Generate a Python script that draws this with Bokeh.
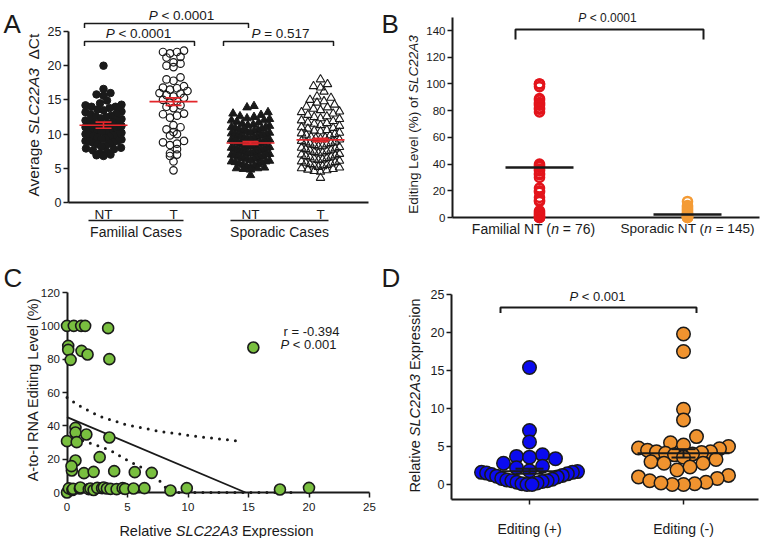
import math
from bokeh.plotting import figure
from bokeh.models import Range1d, LinearAxis, FixedTicker
from bokeh.layouts import gridplot
from bokeh.core.properties import value
from bokeh.embed import file_html
from bokeh.resources import INLINE

FONT = "Liberation Sans"
INK = "#1a1a1a"

# ---------------- data ----------------
# Panel A : average SLC22A3 dCt
a_groups = ["Familial Cases", "Sporadic Cases"]
a_ticks = ["NT", "T", "NT", "T"]
a_fam_nt = [20.0, 16.6, 16.0, 15.8, 15.6, 14.9, 14.5, 14.3, 14.2, 14.0, 14.0, 13.8, 13.6, 13.5,
            13.3, 13.2, 13.0, 12.9, 12.7, 12.6, 12.5, 12.3, 12.2, 12.0, 12.0, 11.9, 11.7, 11.6,
            11.5, 11.4, 11.3, 11.2, 11.0, 11.0, 10.9, 10.8, 10.7, 10.6, 10.5, 10.4, 10.3, 10.2,
            10.0, 10.0, 9.9, 9.8, 9.7, 9.6, 9.5, 9.4, 9.3, 9.2, 9.0, 9.0, 8.9, 8.8, 8.7, 8.6,
            8.5, 8.3, 8.2, 8.0, 7.9, 7.8, 7.6, 7.4, 7.2, 7.0, 6.9, 6.8]
a_fam_t = [22.2, 22.0, 22.0, 21.8, 21.3, 21.2, 20.5, 20.3, 20.0, 19.8, 18.3, 18.0, 17.8, 17.0,
           16.8, 16.7, 16.5, 16.3, 16.0, 15.9, 15.7, 15.5, 15.3, 15.0, 14.8, 14.6, 14.2, 14.0,
           13.8, 13.0, 12.9, 12.7, 12.4, 11.3, 11.0, 10.7, 10.3, 10.0, 9.8, 9.0, 8.8, 8.6, 8.4,
           7.8, 7.2, 7.0, 6.8, 6.0, 4.7]
a_spo_nt = [14.1, 13.9, 13.2, 13.0, 12.8, 12.6, 12.5, 12.3, 12.2, 12.0, 12.0, 11.8, 11.7, 11.5,
            11.4, 11.3, 11.2, 11.0, 11.0, 10.9, 10.8, 10.7, 10.6, 10.5, 10.5, 10.4, 10.3, 10.2,
            10.1, 10.0, 10.0, 9.9, 9.8, 9.8, 9.7, 9.6, 9.5, 9.5, 9.4, 9.3, 9.2, 9.2, 9.1, 9.0,
            9.0, 8.9, 8.8, 8.8, 8.7, 8.6, 8.6, 8.5, 8.4, 8.4, 8.3, 8.2, 8.2, 8.1, 8.0, 8.0, 7.9,
            7.8, 7.8, 7.7, 7.6, 7.6, 7.5, 7.4, 7.4, 7.3, 7.2, 7.2, 7.1, 7.0, 7.0, 6.9, 6.8, 6.8,
            6.7, 6.6, 6.5, 6.5, 6.4, 6.3, 6.2, 6.1, 6.0, 6.0, 5.9, 5.8, 5.7, 5.6, 5.5, 5.4, 5.3,
            5.2, 5.1, 5.0, 5.0, 4.9, 4.8, 4.0]
a_spo_t = [18.0, 17.3, 17.0, 16.8, 16.2, 15.5, 15.3, 15.0, 14.8, 14.6, 14.3, 14.0, 13.9, 13.7,
           13.5, 13.3, 13.2, 13.0, 12.8, 12.6, 12.5, 12.3, 12.2, 12.0, 11.9, 11.7, 11.6, 11.5,
           11.3, 11.2, 11.0, 10.9, 10.8, 10.6, 10.5, 10.4, 10.2, 10.1, 10.0, 9.9, 9.8, 9.6, 9.5,
           9.4, 9.3, 9.2, 9.0, 8.9, 8.8, 8.7, 8.6, 8.5, 8.4, 8.3, 8.2, 8.1, 8.0, 7.9, 7.8, 7.7,
           7.6, 7.5, 7.4, 7.3, 7.2, 7.1, 7.0, 6.9, 6.8, 6.7, 6.6, 6.5, 6.4, 6.3, 6.2, 6.1, 6.0,
           5.9, 5.8, 5.7, 5.6, 5.5, 5.4, 5.3, 5.2, 5.1, 5.0, 4.9, 4.8, 4.7, 4.6, 4.5, 3.6]
a_mean = [11.3, 14.75, 8.7, 9.15]
a_sem = [0.45, 0.55, 0.2, 0.25]
a_p_top = "< 0.0001"
a_p_left = "< 0.0001"
a_p_right = "= 0.517"

# Panel B : editing level (%)
b_cats = ["Familial NT", "Sporadic NT"]
b_n = [76, 145]
b_fam = [100, 100, 98, 89, 88, 86, 85, 84, 82, 81, 79, 40, 39, 38, 36, 35, 33, 32, 30, 22, 20,
         19, 15, 13, 12, 5, 4, 3, 2, 1, 0, 0, 0]
b_spo = [12, 9, 8, 7, 6, 5, 4, 3, 3, 2, 2, 1, 1, 0, 0, 0]
b_median = [37.5, 2.3]
b_p = "< 0.0001"

# Panel C : correlation
c_expr = [0.0, 0.56, 1.17, 1.5, 3.4, 0.1, 0.1, 0.3, 1.2, 1.7, 3.5, 15.4, 0.7, 0.7, 0.0, 0.8,
          1.6, 3.5, 0.7, 0.4, 0.37, 1.4, 2.2, 2.7, 3.9, 5.6, 7.0, 0.0, 0.15, 0.45, 0.5, 1.06,
          1.1, 1.8, 1.94, 2.2, 2.5, 2.9, 3.04, 3.3, 3.6, 4.1, 4.6, 4.8, 5.5, 6.4, 8.55, 9.9,
          17.6, 20.0]
c_edit = [100, 100, 100, 100, 98.6, 88, 85.6, 79.6, 85, 82.8, 80, 87, 38.8, 36, 30.8, 30.2,
          34.8, 33, 19.2, 13.2, 15.8, 11.6, 12.4, 21.2, 12.8, 12.2, 11.8, 0, 2.5, 1.5, 2.2, 2.4,
          3.0, 2.0, 2.4, 1.5, 2.8, 2.6, 3.0, 2.4, 2.2, 2.0, 2.6, 2.2, 2.4, 2.6, 1.2, 2.6, 1.8,
          2.8]
c_fit_x = [0.0, 14.75]
c_fit_y = [45.2, 0.0]
c_hi_x = [0.0, 0.6, 1.3, 2.7, 4.8, 7.7, 10.8, 14.5]
c_hi_y = [57.0, 54.0, 50.8, 45.8, 40.8, 36.6, 33.6, 30.6]
c_lo_x = [0.0, 1.3, 2.2, 3.6, 4.8, 6.1, 7.5, 8.0, 8.5, 19.0]
c_lo_y = [33.0, 31.0, 29.0, 25.2, 20.0, 15.2, 8.2, 4.2, 0.0, 0.0]
c_r = "r = -0.394"
c_p = "< 0.001"

# Panel D : expression by editing status
d_cats = ["Editing (+)", "Editing (-)"]
d_pos = [15.4, 7.1, 5.6, 3.9, 3.7, 3.6, 3.4, 2.8, 2.4, 2.2, 1.8, 1.7, 1.6, 1.6, 1.5, 1.4, 1.3,
         1.2, 1.1, 1.0, 0.8, 0.7, 0.6, 0.5, 0.5, 0.4, 0.3, 0.2, 0.1, 0.0, 0.0]
d_neg = [19.8, 17.5, 9.9, 8.5, 6.3, 5.5, 5.2, 5.0, 4.8, 4.7, 4.5, 4.3, 4.3, 4.2, 4.1, 4.0, 3.9,
         3.6, 3.3, 3.0, 2.8, 2.8, 2.3, 1.9, 1.2, 1.0, 0.8, 0.5, 0.3, 0.1, 0.0, 0.0, 0.2]
d_mean = [1.75, 4.1]
d_sem = [0.33, 0.55]
d_p = "< 0.001"

# ---------------- helpers ----------------
CW = {" ": 278, "(": 333, ")": 333, "+": 584, "-": 333, ".": 278, "%": 889, "=": 584, "<": 584,
      "A": 667, "B": 667, "C": 722, "D": 722, "E": 667, "F": 611, "I": 278, "L": 556, "N": 722,
      "P": 667, "R": 722, "S": 667, "T": 611, "a": 556, "c": 500, "d": 556, "e": 556, "f": 278,
      "g": 556, "i": 222, "l": 222, "m": 833, "n": 556, "o": 556, "p": 556, "r": 333, "s": 500,
      "t": 278, "v": 500, "x": 500, "y": 500, "\u0394": 612}


def tw(s, size):
    return sum(CW.get(ch, 556) for ch in s) * size / 1000.0


def swarm(vals, sy, diam, max_half):
    order = sorted(range(len(vals)), key=lambda i: vals[i])
    bins = {}
    for i in order:
        bins.setdefault(math.floor(vals[i] * sy / diam), []).append(i)
    off = [0.0] * len(vals)
    for idx in bins.values():
        k = len(idx)
        if k < 2:
            continue
        slots = sorted([j - (k - 1) / 2 for j in range(k)], key=lambda s: (abs(s), s))
        spacing = min(diam, max_half / ((k - 1) / 2))
        for i, s in zip(idx, slots):
            off[i] = s * spacing
    return off


class Panel:
    def __init__(self, X0, Y0, W, H, xa, Xa, xb, Xb, ya, Ya, yb, Yb):
        self.sx = (Xb - Xa) / (xb - xa)
        self.sy = (Ya - Yb) / (yb - ya)
        self.xa, self.Xa, self.ya, self.Ya = xa, Xa, ya, Ya
        self.p = figure(width=W, height=H, x_range=Range1d(self.dx(X0), self.dx(X0 + W)),
                        y_range=Range1d(self.dy(Y0 + H), self.dy(Y0)), min_border=0,
                        toolbar_location=None, tools="", output_backend="svg",
                        x_axis_location=None, y_axis_location=None)
        self.p.outline_line_color = None
        self.p.grid.visible = False
        self.p.title.visible = False
        self.p.background_fill_color = "white"
        self.p.border_fill_color = "white"

    def dx(self, X):
        return self.xa + (X - self.Xa) / self.sx

    def dy(self, Y):
        return self.ya + (self.Ya - Y) / self.sy

    def axis(self, side, loc, bounds, ticks, size, overrides=None, tick_out=5, standoff=3):
        ax = LinearAxis(fixed_location=loc, bounds=bounds, ticker=FixedTicker(ticks=ticks))
        ax.axis_line_width = 2
        ax.axis_line_color = INK
        ax.major_tick_line_width = 1.5
        ax.major_tick_line_color = INK if tick_out > 0 else None
        ax.major_tick_out = tick_out
        ax.major_tick_in = 0
        ax.minor_tick_line_color = None
        ax.major_label_text_font = FONT
        ax.major_label_text_font_size = f"{size}px"
        ax.major_label_text_color = INK
        ax.major_label_standoff = standoff
        if overrides:
            ax.major_label_overrides = overrides
        self.p.add_layout(ax, side)
        return ax

    def rich(self, X, Y, parts, size, align="center", angle=0.0, baseline="middle"):
        widths = [tw(t, size) for t, _ in parts]
        total = sum(widths)
        if angle == 0:
            cur = X - total / 2 if align == "center" else (X if align == "left" else X - total)
        else:
            cur = Y + total / 2
        for (t, it), w in zip(parts, widths):
            body = t.strip()
            lead = tw(t[:len(t) - len(t.lstrip())], size)
            if angle == 0:
                x, y = self.dx(cur + lead), self.dy(Y)
                cur += w
            else:
                x, y = self.dx(X), self.dy(cur - lead)
                cur -= w
            self.p.text(x=[x], y=[y], text=[body], angle=angle, text_font=value(FONT),
                        text_font_size=f"{size}px",
                        text_font_style="italic" if it else "normal",
                        text_align="left", text_baseline=baseline, text_color=INK)

    def letter(self, X, Y, s):
        self.p.text(x=[self.dx(X)], y=[self.dy(Y)], text=[s], text_font=value(FONT),
                    text_font_size="26px", text_align="left", text_baseline="alphabetic",
                    text_color=INK)

    def bracket(self, X1, X2, Ytop, Ydrop, width=1.5):
        self.p.line([self.dx(X1), self.dx(X1), self.dx(X2), self.dx(X2)],
                    [self.dy(Ydrop), self.dy(Ytop), self.dy(Ytop), self.dy(Ydrop)],
                    line_color=INK, line_width=width)


# ---------------- Panel A ----------------
A = Panel(0, 0, 381, 250, 0, 68, 1, 138, 0, 202, 25, 31)
a_xpos = [0.5, 1.5, 2.6, 3.6]
A.axis("left", 0, (0, 25), [0, 5, 10, 15, 20, 25], 12.5, standoff=2)
A.axis("below", 0, (0, 4.29), a_xpos, 13.5,
       overrides={a_xpos[i]: a_ticks[i] for i in range(4)}, tick_out=0, standoff=4)

a_series = [a_fam_nt, a_fam_t, a_spo_nt, a_spo_t]
a_style = [dict(marker="circle", size=7.5, fill_color=INK, line_color=INK),
           dict(marker="circle", size=7.5, fill_color=None, line_color=INK, line_width=1.2),
           dict(marker="triangle", size=8.5, fill_color=INK, line_color=INK),
           dict(marker="triangle", size=8.5, fill_color=None, line_color=INK, line_width=1.1)]
a_half = [18, 14, 19, 19]
for k in range(4):
    offs = swarm(a_series[k], A.sy, 7.0, a_half[k])
    xs = [a_xpos[k] + o / A.sx for o in offs]
    A.p.scatter(xs, a_series[k], **a_style[k])
RED = "#e3262b"
for k in range(4):
    c = a_xpos[k]
    h, cap = 24 / A.sx, 8 / A.sx
    m, s = a_mean[k], a_sem[k]
    A.p.segment([c - h, c, c - cap, c - cap], [m, m - s, m + s, m - s],
                [c + h, c, c + cap, c + cap], [m, m + s, m + s, m - s],
                line_color=RED, line_width=1.6)
A.bracket(84, 248, 23, 27.5)
A.bracket(84, 194, 41, 45.5)
A.bracket(223, 333, 41, 45.5)
A.rich(181, 15, [("P", 1), (" " + a_p_top, 0)], 13.5)
A.rich(138, 33, [("P", 1), (" " + a_p_left, 0)], 13.5)
A.rich(280, 33, [("P", 1), (" " + a_p_right, 0)], 13.5)
A.rich(33, 115, [("Average ", 0), ("SLC22A3", 1), ("  \u0394Ct", 0)], 15.5, angle=math.pi / 2)
for (X1, X2), g in zip([(88, 183), (230, 328)], a_groups):
    A.p.line([A.dx(X1), A.dx(X2)], [A.dy(220), A.dy(220)], line_color=INK, line_width=1.5)
    A.rich((X1 + X2) / 2, 231, [(g, 0)], 14)
A.letter(3, 23, "A")

# ---------------- Panel B ----------------
B = Panel(381, 0, 381, 250, 0, 452, 1, 552, 0, 217, 140, 30)
b_xpos = [0.87, 2.35]
B.axis("left", 0, (0, 150), [0, 20, 40, 60, 80, 100, 120, 140], 11.5, standoff=2)
B.axis("below", 0, (0, 3.07), [], 12, tick_out=0)
B.p.scatter([b_xpos[0]] * len(b_fam), b_fam, marker="circle", size=9, fill_color=None,
            line_color="#e3141b", line_width=2.6, level="overlay")
B.p.scatter([b_xpos[1]] * len(b_spo), b_spo, marker="circle", size=9, fill_color=None,
            line_color="#f49b35", line_width=2.6, level="overlay")
for k in range(2):
    h = 34 / B.sx
    B.p.segment([b_xpos[k] - h], [b_median[k]], [b_xpos[k] + h], [b_median[k]],
                line_color=INK, line_width=2.5, level="overlay")
B.bracket(515, 703, 29, 39, width=2)
B.rich(607, 17, [("P", 1), (" " + b_p, 0)], 12)
B.rich(413, 124, [("Editing Level (%) of ", 0), ("SLC22A3", 1)], 13.5, angle=math.pi / 2)
B.rich(533, 228, [(b_cats[0] + " (", 0), ("n", 1), (f" = {b_n[0]})", 0)], 14)
B.rich(687, 228, [(b_cats[1] + " (", 0), ("n", 1), (f" = {b_n[1]})", 0)], 13.6)
B.letter(381, 23, "B")

# ---------------- Panel C ----------------
C = Panel(0, 250, 381, 288, 0, 66.5, 25, 369, 0, 492, 120, 292)
C.axis("left", 0, (0, 120), [0, 20, 40, 60, 80, 100, 120], 11.5, standoff=2)
C.axis("below", 0, (0, 25), [0, 5, 10, 15, 20, 25], 11.5, standoff=5)
C.p.line(c_hi_x, c_hi_y, line_color=INK, line_width=3, line_dash="0 8", line_cap="round")
C.p.line(c_lo_x, c_lo_y, line_color=INK, line_width=3, line_dash="0 8", line_cap="round")
C.p.line(c_fit_x, c_fit_y, line_color=INK, line_width=1.8)
C.p.scatter(c_expr, c_edit, marker="circle", size=11, fill_color="#79bf3f", line_color=INK,
            line_width=1.6, level="overlay")
C.rich(283, 331, [(c_r, 0)], 13, align="left")
C.rich(280, 344, [("P", 1), (" " + c_p, 0)], 13, align="left")
C.rich(32, 389, [("A-to-I RNA Editing Level (%)", 0)], 14.5, angle=math.pi / 2)
C.rich(216, 530, [("Relative ", 0), ("SLC22A3", 1), (" Expression", 0)], 14.5)
C.letter(3, 277, "C")

# ---------------- Panel D ----------------
D = Panel(381, 250, 381, 288, 0, 451, 1, 551, 0, 484, 25, 294)
d_xpos = [0.78, 2.32]
d_floor = D.dy(499)
D.axis("left", 0, (d_floor, 25), [0, 5, 10, 15, 20, 25], 12.5, standoff=2)
D.axis("below", d_floor, (0, 3.07), d_xpos, 14,
       overrides={d_xpos[i]: d_cats[i] for i in range(2)}, tick_out=5, standoff=16)
for vals, c, col, half in [(d_pos, d_xpos[0], "#0b0bef", 48), (d_neg, d_xpos[1], "#f0932f", 45)]:
    offs = swarm(vals, D.sy, 13.0, half)
    D.p.scatter([c + o / D.sx for o in offs], vals, marker="circle", size=13.5, fill_color=col,
                line_color=INK, line_width=1.5)
for k, (h, cap) in enumerate([(28, 14), (46, 12)]):
    c, m, s = d_xpos[k], d_mean[k], d_sem[k]
    hh, cc = h / D.sx, cap / D.sx
    D.p.segment([c - hh, c, c - cc, c - cc], [m, m - s, m + s, m - s],
                [c + hh, c, c + cc, c + cc], [m, m + s, m + s, m - s],
                line_color=INK, line_width=2)
D.bracket(500, 696, 307, 312.5, width=2)
D.rich(597, 296, [("P", 1), (" " + d_p, 0)], 13)
D.rich(414, 395, [("Relative ", 0), ("SLC22A3", 1), (" Expression", 0)], 14.5, angle=math.pi / 2)
D.letter(381, 277, "D")

grid = gridplot([[A.p, B.p], [C.p, D.p]], toolbar_location=None)
open("out.html", "w").write(file_html(grid, INLINE))
